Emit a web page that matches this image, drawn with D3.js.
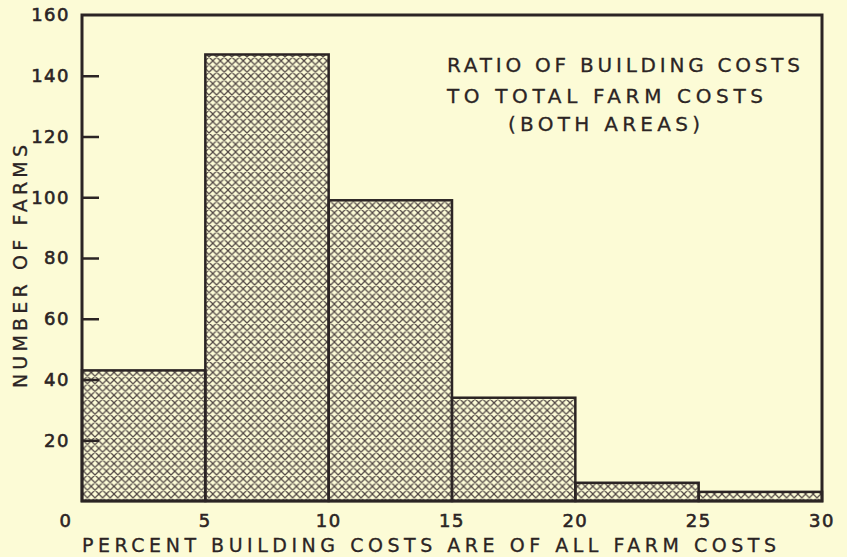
<!DOCTYPE html>
<html>
<head>
<meta charset="utf-8">
<script src="https://cdn.jsdelivr.net/npm/d3@7"></script>
<style>
  html, body { margin: 0; padding: 0; background: #fcfbd6; }
  svg { display: block; }
  text { font-family: "DejaVu Sans", sans-serif; fill: #2b2424; }
</style>
</head>
<body>
<div id="chart"></div>
<script>
// Data
const binStarts = [0, 5, 10, 15, 20, 25];
const binWidth = 5;
const farmCounts = [43, 147, 99, 34, 6, 3];
const yTicks = [20, 40, 60, 80, 100, 120, 140, 160];
const xTicks = [0, 5, 10, 15, 20, 25, 30];
const titleLines = ["RATIO OF BUILDING COSTS", "TO TOTAL FARM COSTS", "(BOTH AREAS)"];

const width = 847, height = 557;
const margin = {top: 15, right: 25, bottom: 56, left: 82};
const ink = "#2b2424";

const svg = d3.select("#chart").append("svg")
  .attr("width", width)
  .attr("height", height);

svg.append("rect").attr("width", width).attr("height", height).attr("fill", "#fcfbd6");

// crosshatch pattern
const defs = svg.append("defs");
const pat = defs.append("pattern")
  .attr("id", "hatch")
  .attr("patternUnits", "userSpaceOnUse")
  .attr("width", 7.6).attr("height", 7.6);
pat.append("path")
  .attr("d", "M0,0L7.6,7.6M7.6,0L0,7.6M-1,6.6L1,8.6M6.6,-1L8.6,1M-1,1L1,-1M6.6,8.6L8.6,6.6")
  .attr("stroke", "#4f4543")
  .attr("stroke-width", 1.2)
  .attr("fill", "none");

const x = d3.scaleLinear().domain([0, 30]).range([margin.left, width - margin.right]);
const y = d3.scaleLinear().domain([0, 160]).range([height - margin.bottom, margin.top]);

// bars
svg.append("g")
  .selectAll("rect")
  .data(farmCounts)
  .join("rect")
  .attr("x", (d, i) => x(binStarts[i]))
  .attr("width", (d, i) => x(binStarts[i] + binWidth) - x(binStarts[i]))
  .attr("y", d => y(d))
  .attr("height", d => y(0) - y(d))
  .attr("fill", "url(#hatch)")
  .attr("stroke", ink)
  .attr("stroke-width", 2.5);

// frame
svg.append("rect")
  .attr("x", x(0)).attr("y", y(160))
  .attr("width", x(30) - x(0))
  .attr("height", y(0) - y(160))
  .attr("fill", "none")
  .attr("stroke", ink)
  .attr("stroke-width", 3);

// y axis: ticks pointing inward
const yAxis = svg.append("g")
  .attr("transform", `translate(${x(0)},0)`)
  .call(d3.axisRight(y).tickValues(yTicks.filter(v => v < 160)).tickSize(17).tickFormat(""));
yAxis.select(".domain").remove();
yAxis.selectAll("line").attr("stroke", ink).attr("stroke-width", 2.5);

svg.append("g")
  .selectAll("text")
  .data(yTicks)
  .join("text")
  .attr("x", x(0) - 12)
  .attr("y", d => y(d))
  .attr("dy", "0.36em")
  .attr("text-anchor", "end")
  .attr("font-size", 18)
  .attr("stroke", ink)
  .attr("stroke-width", 0.6)
  .attr("letter-spacing", 1.5)
  .text(d => d);

// x tick labels
svg.append("g")
  .selectAll("text")
  .data(xTicks)
  .join("text")
  .attr("x", d => x(d) + (d === 0 ? -16 : 0))
  .attr("y", y(0) + 26)
  .attr("text-anchor", "middle")
  .attr("font-size", 18)
  .attr("stroke", ink)
  .attr("stroke-width", 0.6)
  .attr("letter-spacing", 1.5)
  .text(d => d);

// axis titles
svg.append("text")
  .attr("x", 82)
  .attr("y", 552)
  .attr("font-size", 19)
  .attr("stroke", ink)
  .attr("stroke-width", 0.3)
  .attr("textLength", 694)
  .attr("lengthAdjust", "spacing")
  .text("PERCENT BUILDING COSTS ARE OF ALL FARM COSTS");

svg.append("text")
  .attr("transform", "translate(27,388) rotate(-90)")
  .attr("font-size", 19)
  .attr("stroke", ink)
  .attr("stroke-width", 0.3)
  .attr("textLength", 243)
  .attr("lengthAdjust", "spacing")
  .text("NUMBER OF FARMS");

// chart title
const titleX = [447, 447, 508];
const titleY = [72, 103, 131];
const titleLen = [353, 316, 192];
svg.append("g")
  .selectAll("text")
  .data(titleLines)
  .join("text")
  .attr("x", (d, i) => titleX[i])
  .attr("y", (d, i) => titleY[i])
  .attr("font-size", 20)
  .attr("stroke", ink)
  .attr("stroke-width", 0.3)
  .attr("textLength", (d, i) => titleLen[i])
  .attr("lengthAdjust", "spacing")
  .text(d => d);
</script>
</body>
</html>
